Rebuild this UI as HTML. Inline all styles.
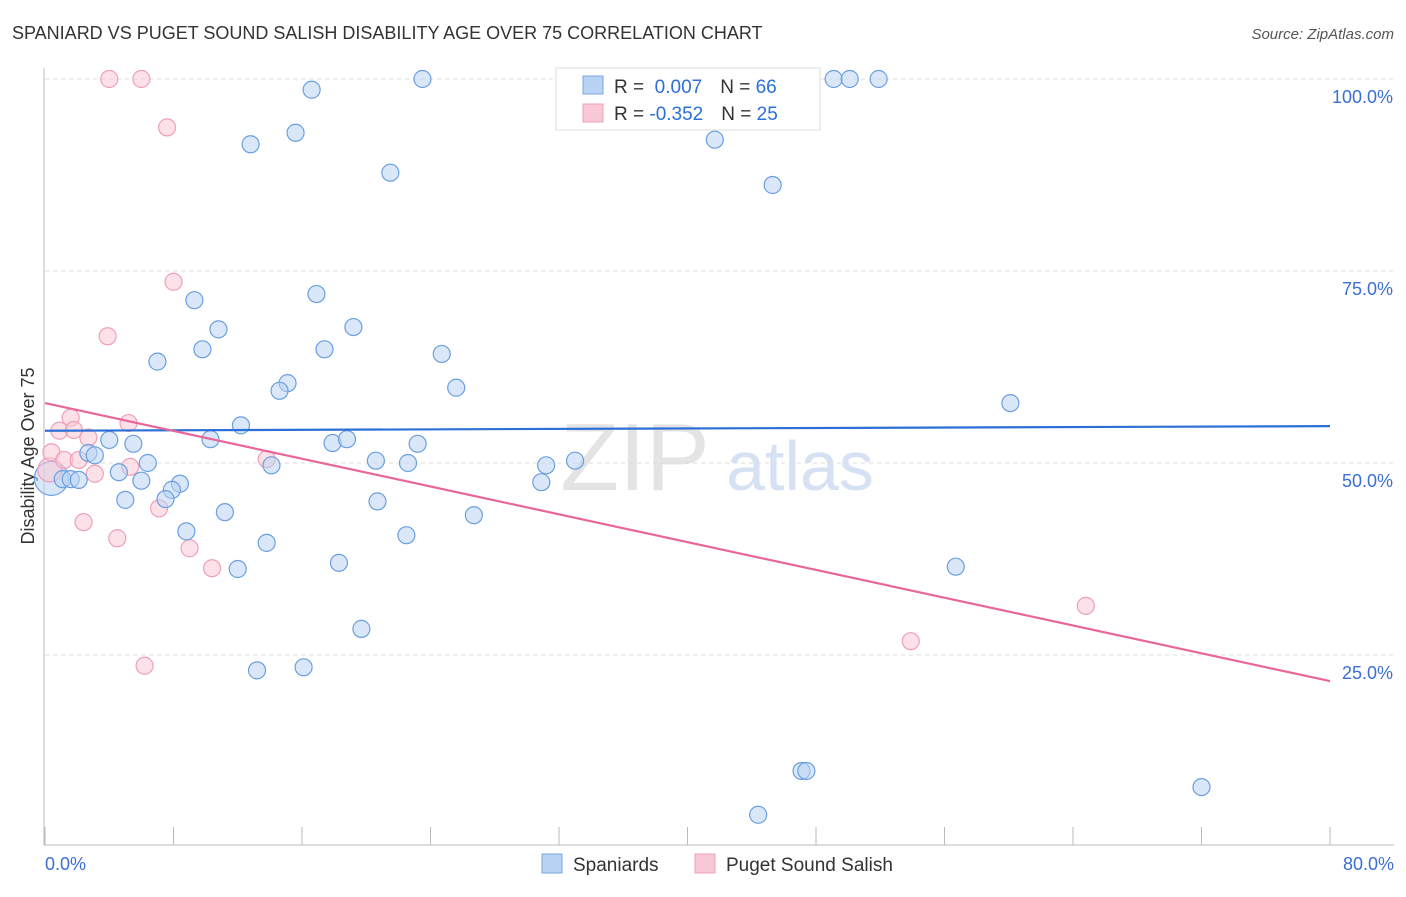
<!DOCTYPE html>
<html><head><meta charset="utf-8"><style>
body{margin:0;background:#fff;font-family:"Liberation Sans",sans-serif;}
svg text{font-family:"Liberation Sans",sans-serif;}
</style></head><body>
<svg width="1406" height="892" xmlns="http://www.w3.org/2000/svg">
<text x="12" y="39" font-size="18" fill="#333">SPANIARD VS PUGET SOUND SALISH DISABILITY AGE OVER 75 CORRELATION CHART</text>
<text x="1394" y="39" font-size="15" fill="#555" text-anchor="end" font-style="italic">Source: ZipAtlas.com</text>
<text x="635" y="490" font-size="96" fill="#e4e4e4" text-anchor="middle" font-family="Liberation Serif">ZIP</text>
<text x="800" y="490" font-size="70" fill="#d6e2f3" text-anchor="middle">atlas</text>
<g id="grid"></g>
<line x1="44" y1="68" x2="44" y2="845" stroke="#bbb"/>
<line x1="44" y1="845" x2="1394" y2="845" stroke="#bbb"/>
<g id="xticks"></g>
<text x="45" y="870" font-size="18" fill="#3b6fd4">0.0%</text>
<text x="1394" y="870" font-size="18" fill="#3b6fd4" text-anchor="end">80.0%</text>
<text transform="translate(34,456) rotate(-90)" font-size="18" fill="#333" text-anchor="middle">Disability Age Over 75</text>
<g id="points"></g>
<g id="trends"></g>
<g>
<rect x="556" y="68" width="264" height="62" fill="#fff" stroke="#ddd"/>
<rect x="583" y="76" width="20" height="18" fill="#b9d3f3" stroke="#7aa6e0"/>
<rect x="583" y="104" width="20" height="18" fill="#f9c8d6" stroke="#eea0b8"/>
<text x="614" y="93" font-size="19" fill="#333">R = <tspan fill="#2c6fd6">&#160;0.007</tspan><tspan dx="18" fill="#333">N = </tspan><tspan fill="#2c6fd6">66</tspan></text>
<text x="614" y="120" font-size="19" fill="#333">R = <tspan fill="#2c6fd6">-0.352</tspan><tspan dx="18" fill="#333">N = </tspan><tspan fill="#2c6fd6">25</tspan></text>
</g>
<g>
<rect x="542" y="854" width="20" height="19" fill="#b9d3f3" stroke="#7aa6e0"/>
<text x="573" y="871" font-size="19" fill="#333">Spaniards</text>
<rect x="695" y="854" width="20" height="19" fill="#f9c8d6" stroke="#eea0b8"/>
<text x="726" y="871" font-size="19" fill="#333">Puget Sound Salish</text>
</g>
</svg>
<script>
const yTicks=[100,75,50,25];
const yTickLabels=["100.0%","75.0%","50.0%","25.0%"];
const xTickVals=[0,8,16,24,32,40,48,56,64,72,80];
const blueX=[23.5,49.1,50.1,51.9,16.6,15.6,12.8,41.7,21.5,45.3,16.9,9.3,10.8,19.2,9.8,17.4,7.0,24.7,15.1,14.6,25.6,60.1,12.2,4.0,5.5,10.3,17.9,18.8,23.2,2.7,3.1,6.4,14.1,20.6,22.6,31.2,33.0,4.6,1.1,1.6,2.1,6.0,30.9,8.4,7.9,7.5,5.0,20.7,11.2,26.7,8.8,22.5,13.8,18.3,12.0,56.7,19.7,13.2,16.1,47.1,47.4,72.0,44.4];
const blueY=[100,100,100,100,98.6,93.0,91.5,92.1,87.8,86.2,72.0,71.2,67.4,67.7,64.8,64.8,63.2,64.2,60.4,59.4,59.8,57.8,54.9,53.0,52.5,53.1,52.6,53.1,52.5,51.3,51.0,50.0,49.7,50.3,50.0,49.7,50.3,48.8,47.9,47.9,47.8,47.7,47.5,47.3,46.5,45.3,45.2,45.0,43.6,43.2,41.1,40.6,39.6,37.0,36.2,36.5,28.4,23.0,23.4,9.9,9.9,7.8,4.2];
const pinkX=[4.0,6.0,7.6,8.0,3.9,1.6,5.2,0.9,1.8,2.7,0.4,1.2,2.1,5.3,13.8,3.1,7.1,2.4,4.5,9.0,10.4,64.8,53.9,6.2];
const pinkY=[100,100,93.7,73.6,66.5,55.9,55.2,54.2,54.3,53.3,51.4,50.4,50.4,49.5,50.5,48.6,44.1,42.3,40.2,38.9,36.3,31.4,26.8,23.6];
const bigBlue=[0.4,48.0];
const bigPink=[0.3,49.1];
const blueTrend=[54.2,54.8];
const pinkTrend=[57.8,21.6];
const NS="http://www.w3.org/2000/svg";
const X=v=>45+v/80*1285;
const Y=v=>847-v/100*768;
function mk(tag,attrs,parent){const e=document.createElementNS(NS,tag);for(const k in attrs)e.setAttribute(k,attrs[k]);document.getElementById(parent).appendChild(e);return e;}
yTicks.forEach((t,i)=>{
 const l=mk('line',{x1:45,x2:1394,y1:Y(t),y2:Y(t),stroke:'#ddd','stroke-dasharray':'4,4'},'grid');
 
 
 const tx=mk('text',{x:1393,y:Y(t)+24,'font-size':18,fill:'#3b6fd4','text-anchor':'end'},'grid');
 tx.textContent=yTickLabels[i];
 
 
});
xTickVals.forEach(v=>{
 const l=mk('line',{x1:X(v),x2:X(v),y1:827,y2:845,stroke:'#bbb'},'xticks');
 
 
});
function dot(x,y,r,fill,stroke,name){
 const c=mk('circle',{cx:X(x),cy:Y(y),r:r,fill:fill,'fill-opacity':0.55,stroke:stroke,'stroke-width':1.2},'points');
 
 
}
dot(bigBlue[0],bigBlue[1],17,'#b9d3f3','#6b9fe0','spaniard-point');
dot(bigPink[0],bigPink[1],12,'#f9c8d6','#eea0b8','puget-point');
pinkX.forEach((x,i)=>dot(x,pinkY[i],8.5,'#f9c8d6','#eea0b8','puget-point'));
blueX.forEach((x,i)=>dot(x,blueY[i],8.5,'#b9d3f3','#6b9fe0','spaniard-point'));
const bt=mk('line',{x1:X(0),x2:X(80),y1:Y(blueTrend[0]),y2:Y(blueTrend[1]),stroke:'#2c6fd6','stroke-width':2.2},'trends');


const pt=mk('line',{x1:X(0),x2:X(80),y1:Y(pinkTrend[0]),y2:Y(pinkTrend[1]),stroke:'#e8679a','stroke-width':2.2},'trends');


</script>
</body></html>
